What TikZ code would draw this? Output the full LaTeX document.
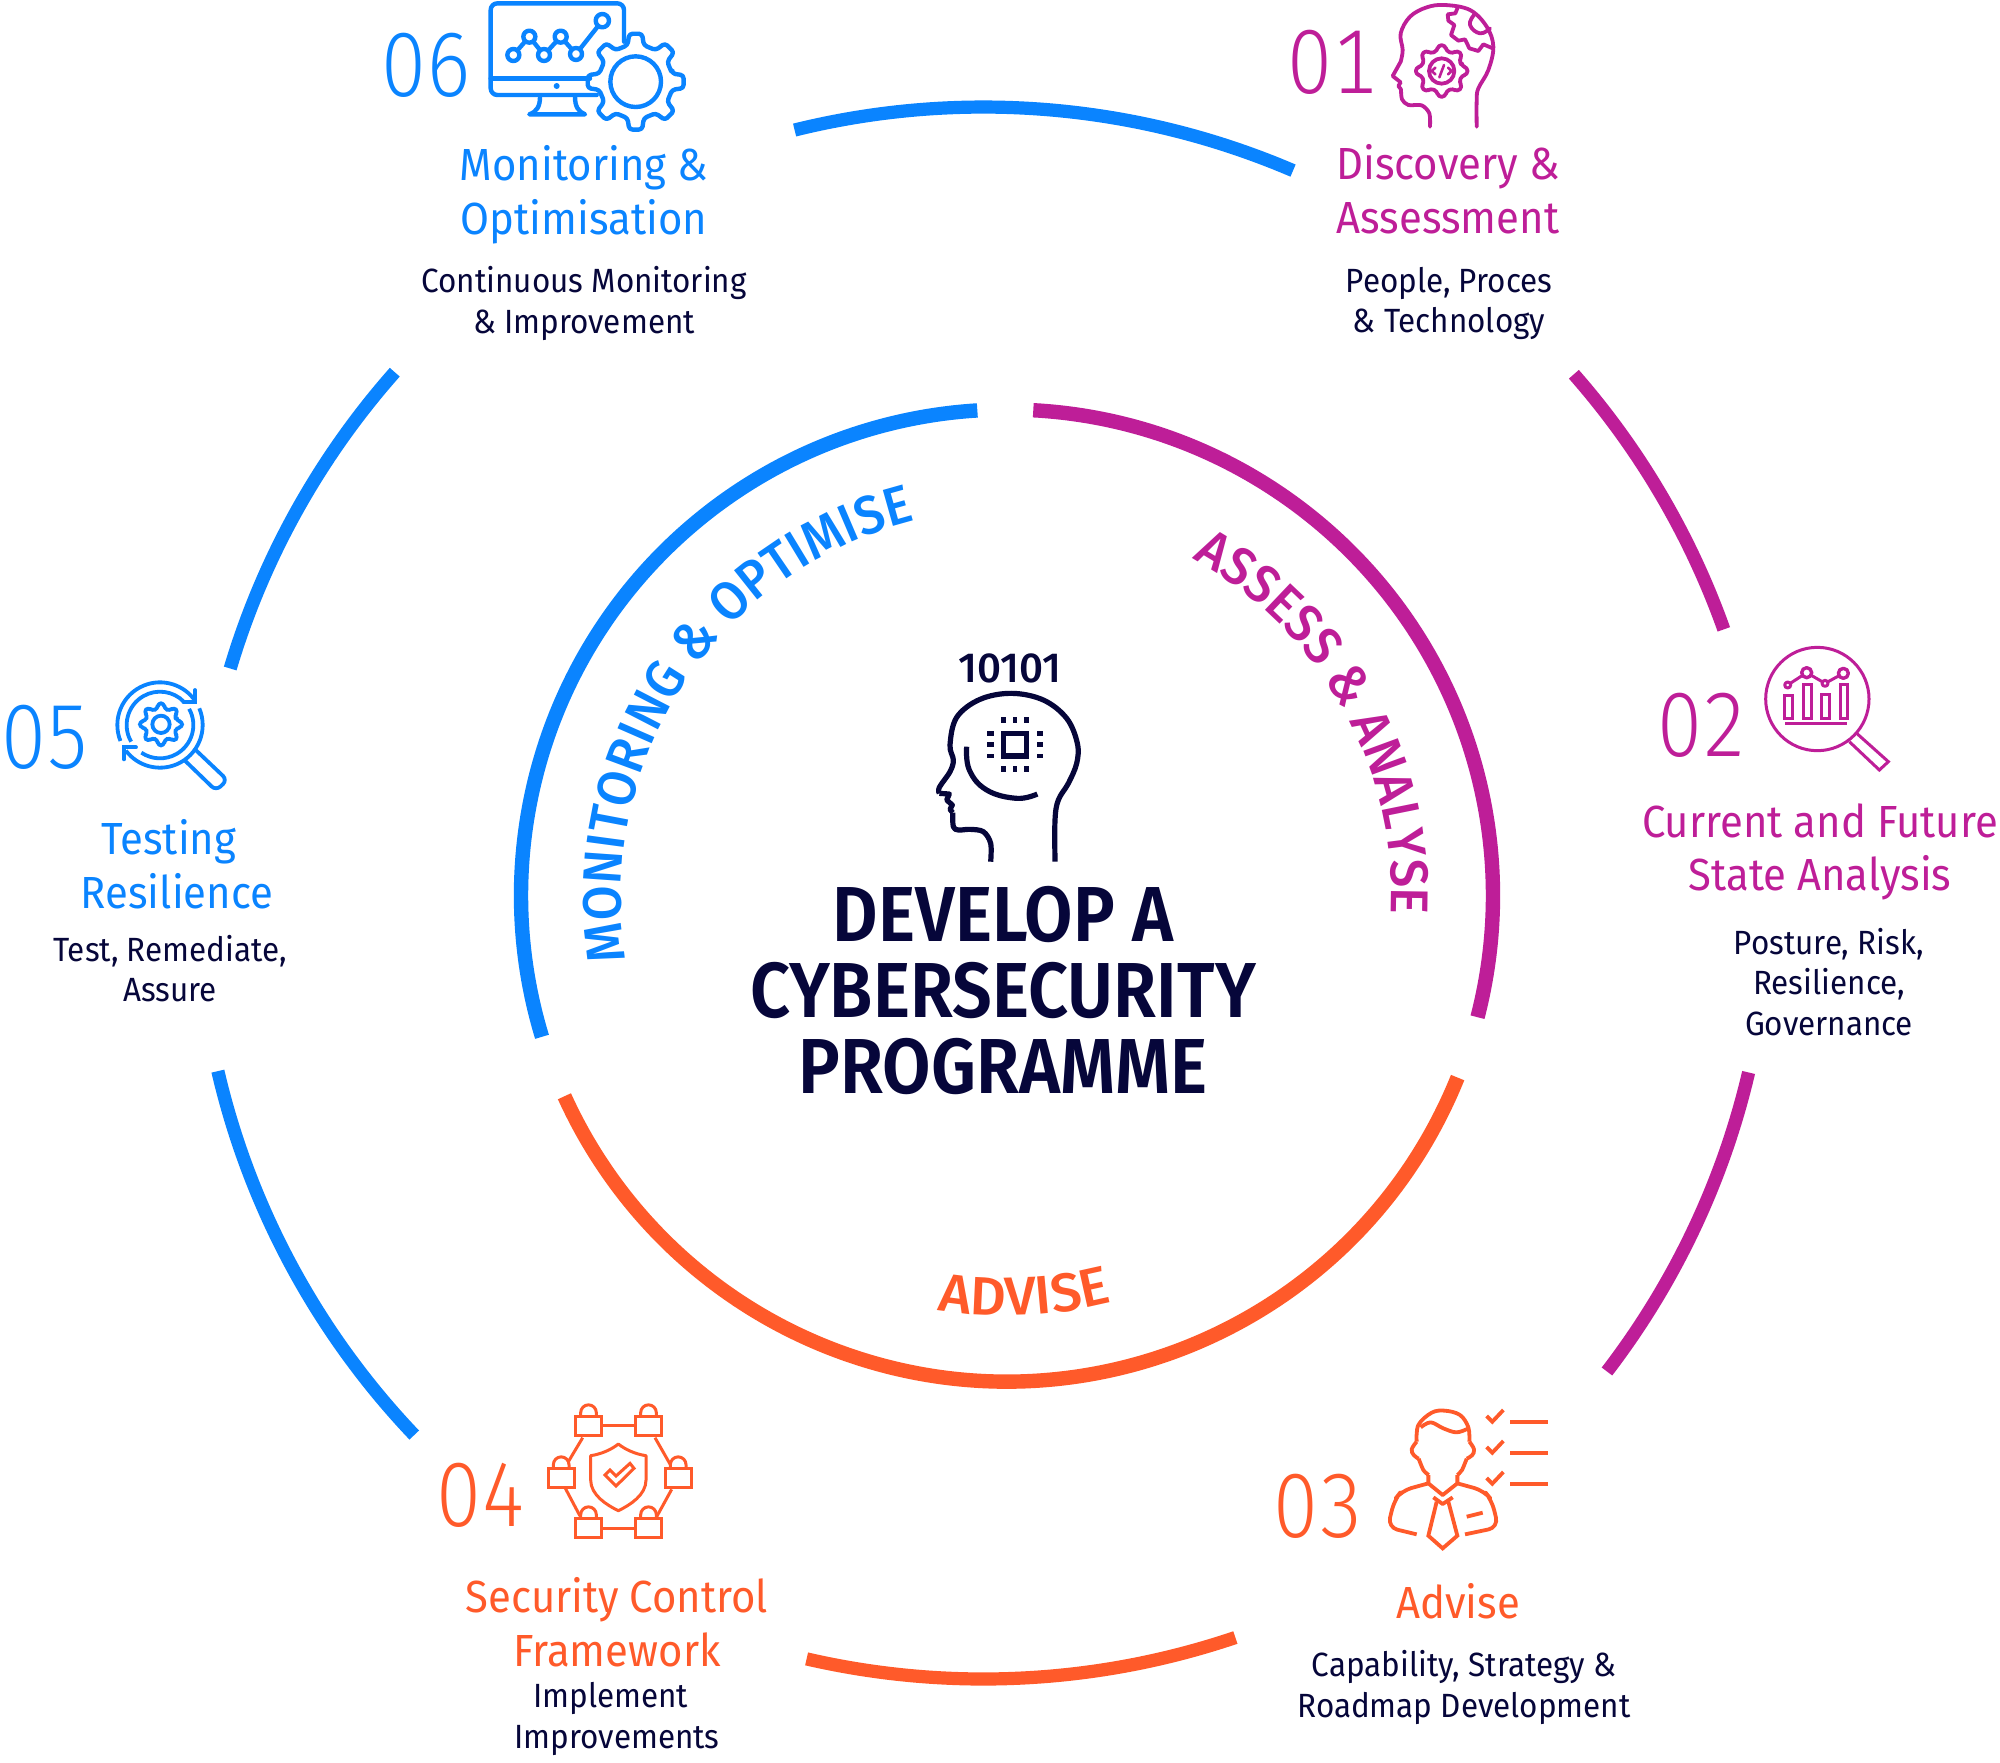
\documentclass[tikz,border=0pt]{standalone}
\usepackage{fontspec}
\usetikzlibrary{decorations.text}
\setmainfont{Fira Sans}
\newfontfamily\lightf{Fira Sans Light}[Numbers={Lining,Monospaced}]
\newfontfamily\semif{Fira Sans SemiBold}[FakeStretch=0.9]
\newfontfamily\medf{Fira Sans Medium}
\newfontfamily\curvef{Fira Sans Medium}[FakeStretch=0.94]
\newfontfamily\advf{Fira Sans Medium}[FakeStretch=1.03]
\newfontfamily\titlef{Fira Sans}[FakeStretch=0.93]
\newfontfamily\bodyf{Fira Sans}[FakeStretch=0.935]
\definecolor{bluec}{RGB}{10,132,255}
\definecolor{purpc}{RGB}{190,30,152}
\definecolor{orngc}{RGB}{255,90,42}
\definecolor{navyc}{RGB}{6,6,58}
\tikzset{
 numst/.style={inner sep=0pt,font=\lightf\fontsize{45.5}{45.5}\selectfont},
 titlest/.style={inner sep=0pt,align=center,font=\titlef\fontsize{22.5}{26.8}\selectfont},
 bodyst/.style={inner sep=0pt,align=center,text=navyc,font=\bodyf\fontsize{16.8}{20.4}\selectfont},
 bigst/.style={inner sep=0pt,align=center,text=navyc,font=\semif\fontsize{39}{30}\selectfont},
 outerarc/.style={line width=6.6pt},
 innerarc/.style={line width=7.2pt},
 zoomed/.style={x=0.166667pt,y=-0.166667pt,line cap=round,line join=round},
}
\newcommand{\numtxt}[1]{\scalebox{0.88}[1]{#1}}
\newcommand{\gearp}[5]{% cx cy outer body n
 \begin{scope}[shift={(#1,#2)}]
 \pgfmathsetmacro{\stp}{360/#5}
 \draw[rounded corners=1.6pt] (-0.28*\stp:#4)
 \foreach \k in {1,...,#5}{
  -- ({(\k-1)*\stp-0.17*\stp}:#3) -- ({(\k-1)*\stp+0.17*\stp}:#3) -- ({(\k-1)*\stp+0.28*\stp}:#4) -- ({\k*\stp-0.28*\stp}:#4)
 } -- cycle;
 \end{scope}}
\newcommand{\lockp}[2]{% body left-top
 \draw[line join=miter] (#1,#2) rectangle ++(79,57);
 \draw (#1+16,#2) -- (#1+16,#2-12) arc (180:360:23.5) -- (#1+63,#2);}
\begin{document}
\begin{tikzpicture}[x=0.5pt,y=-0.5pt]
\useasboundingbox[fill=white] (0,0) rectangle (2000,1762);
% outer arcs
\begin{scope}[shift={(983.4,893)},y=0.5pt]
\draw[outerarc,bluec] (103.9:786) arc (103.9:66.8:786);
\draw[outerarc,purpc] (41.3:786) arc (41.3:19.6:786);
\draw[outerarc,purpc] (-13.2:786) arc (-13.2:-37.5:786);
\draw[outerarc,orngc] (-71.3:786) arc (-71.3:-103:786);
\draw[outerarc,bluec] (223.6:786) arc (223.6:193.1:786);
\draw[outerarc,bluec] (163.4:786) arc (163.4:138.5:786);
\end{scope}
% inner arcs and curved labels
\begin{scope}[shift={(1007,895.5)},y=0.5pt]
\draw[innerarc,purpc] (86.9:486) arc (86.9:-14.5:486);
\draw[innerarc,orngc] (-22:486) arc (-22:-155.6:486);
\draw[innerarc,bluec] (196.9:486) arc (196.9:93.5:486);
\path[decorate,decoration={text along path,text align=center,
 text={|\curvef\fontsize{27}{27}\selectfont\color{bluec}|MONITORING {\&} OPTIMISE}}]
 (200.7:386) arc (200.7:92.7:386);
\path[decorate,decoration={text along path,text align=center,
 text={|\curvef\fontsize{26.5}{26.5}\selectfont\color{purpc}|ASSESS {\&} ANALYSE}}]
 (85.15:384.5) arc (85.15:-26.85:384.5);
\path[decorate,decoration={text along path,text align=center,
 text={|\advf\fontsize{27}{27}\selectfont\color{orngc}|ADVISE}}]
 (245:420) arc (245:300:420);
\end{scope}
% centre
\node[inner sep=0pt,text=navyc,font=\medf\fontsize{21}{21}\selectfont] (bits) at (1010,668) {10101};
\node[bigst] (big1) at (1003,914) {DEVELOP A};
\node[bigst] (big2) at (1003,990) {CYBERSECURITY};
\node[bigst] (big3) at (1003,1066) {PROGRAMME};
\begin{scope}[shift={(900,630)},zoomed,navyc,line width=2.6pt,line cap=butt]
\draw[line join=round] plot[smooth,tension=0.55] coordinates {(272,695)(272,640)(250,605)(210,598)(175,600)(160,590)(158,548)};
\draw (158,548) -- (150,538) -- (157,525) -- (140,510) -- (148,492) -- (118,490);
\draw plot[smooth,tension=0.6] coordinates {(118,490)(118,472)(150,425)(160,390)(150,345)(170,262)(240,208)(335,190)(430,210)(500,265)(532,340)(530,400)(505,460)(475,510)(465,570)(465,695)};
\draw plot[smooth,tension=0.7] coordinates {(200,350)(208,420)(260,480)(350,505)(412,492)};
\draw[line join=miter] (310,310) rectangle (380,378);
\foreach \p in {310,345,380}{
 \fill (\p-7,261) rectangle (\p+7,279);
 \fill (\p-7,409) rectangle (\p+7,427);
}
\foreach \p in {310,344,378}{
 \fill (261,\p-7) rectangle (281,\p+7);
 \fill (410,\p-7) rectangle (430,\p+7);
}
\end{scope}
% 06
\node[numst,text=bluec] (n6) at (426,65.5) {\numtxt{06}};
\node[titlest,text=bluec] (t6) at (584,194.5) {Monitoring \&\\Optimisation};
\node[bodyst] (b6) at (584,303.5) {Continuous Monitoring\\\& Improvement};
\begin{scope}[shift={(370,0)},zoomed,bluec,line width=2.2pt]
\draw (660,235) -- (362,235);
\draw (680,285) -- (382,285) arc (90:180:20) -- (362,30) arc (180:270:20) -- (742,10) arc (270:360:20) -- (762,125);
\draw (510,290) .. controls (510,320) and (500,335) .. (478,343) -- (645,343) .. controls (625,335) and (615,320) .. (615,290);
\fill (560,258) circle (9);
\draw (430,165) -- (478,110) -- (522,165) -- (572,110) -- (618,162) -- (697,62);
\foreach \a/\b in {430/165,478/110,522/165,572/110,618/162}{\draw[fill=white] (\a,\b) circle (18);}
\draw[fill=white] (697,62) circle (20);
\gearp{797}{245}{145}{112}{8}
\draw (797,245) circle (76);
\end{scope}
% 01
\node[numst,text=purpc] (n1) at (1332,62) {\numtxt{01}};
\node[titlest,text=purpc] (t1) at (1448,189.5) {Discovery \&\\Assessment};
\node[bodyst] (b1) at (1449,303.5) {People, Proces\\\& Technology};
\begin{scope}[shift={(1270,0)},zoomed,purpc,line width=1.9pt]
\draw plot[smooth,tension=0.5] coordinates {(480,380)(478,340)(455,316)(415,315)(396,298)(393,268)};
\draw (393,268) -- (385,258) -- (392,247) -- (368,228) -- (392,185);
\draw plot[smooth,tension=0.6] coordinates {(392,185)(398,150)(392,100)(420,50)(470,22)(525,15)(600,30)(650,80)(670,140)(655,210)(625,265)(620,300)(620,380)};
\draw plot[smooth,tension=0] coordinates {(562,25)(556,40)(533,43)(535,62)(553,75)(543,105)(565,122)(585,118)(598,145)(625,153)(640,133)(668,145)};
\draw plot[smooth,tension=0.8] coordinates {(660,85)(630,100)(600,75)(612,45)};
\gearp{515}{213}{78}{62}{8}
\draw (515,213) circle (38);
\draw[line width=1.3pt] (496,203) -- (485,213) -- (496,223);
\draw[line width=1.3pt] (534,203) -- (545,213) -- (534,223);
\draw[line width=1.3pt] (522,195) -- (508,232);
\end{scope}
% 02
\node[numst,text=purpc] (n2) at (1702,725) {\numtxt{02}};
\node[titlest,text=purpc] (t2) at (1820,852) {Current and Future\\State Analysis};
\node[bodyst] (b2) at (1829,982) {Posture, Risk,\\Resilience,\\Governance};
\begin{scope}[shift={(1640,630)},zoomed,purpc,line width=1.5pt,line cap=butt]
\draw (532,207) circle (155);
\draw[line join=miter] (650,310) -- (745,395) -- (718,420) -- (628,335);
\foreach \l/\t/\r in {433/197/458,489/162/513,545/192/568,600/162/623}{\draw[line join=miter] (\l,\t) rectangle (\r,265);}
\draw[line width=1.7pt] (435,281) -- (620,281);
\draw (443,165) -- (500,128) -- (555,160) -- (610,130);
\foreach \a/\b in {443/165,555/160}{\draw[fill=white] (\a,\b) circle (9);}
\foreach \a/\b in {500/128,610/130}{\draw[fill=white,line width=1.7pt] (\a,\b) circle (15);}
\end{scope}
% 03
\node[numst,text=orngc] (n3) at (1318,1506) {\numtxt{03}};
\node[titlest,text=orngc] (t3) at (1458,1601) {Advise};
\node[bodyst] (b3) at (1464,1687.5) {Capability, Strategy \&\\Roadmap Development};
\begin{scope}[shift={(1260,1390)},zoomed,orngc,line width=1.9pt,line cap=butt]
\draw plot[smooth,tension=0.6] coordinates {(470,155)(475,105)(515,68)(555,62)(600,75)(625,112)(628,155)};
\draw plot[smooth,tension=0.6] coordinates {(482,112)(512,97)(550,115)(590,127)(625,115)};
\draw plot[smooth,tension=0.7] coordinates {(470,155)(455,178)(462,196)(476,206)};
\draw plot[smooth,tension=0.7] coordinates {(628,155)(642,178)(636,196)(620,206)};
\draw plot[smooth,tension=0.5] coordinates {(476,206)(490,240)(506,255)};
\draw plot[smooth,tension=0.5] coordinates {(620,206)(606,240)(592,255)};
\draw (505,255) -- (505,280) -- (548,315) -- (592,280) -- (592,255);
\draw[rounded corners=5pt] (505,280) -- (425,302) -- (403,330) -- (383,412) -- (470,433);
\draw[rounded corners=5pt] (592,280) -- (672,302) -- (695,330) -- (715,412) -- (615,433);
\draw (520,322) -- (548,342) -- (578,322);
\draw[line join=miter] (530,335) -- (505,437) -- (548,475) -- (592,437) -- (565,335);
\draw (620,380) -- (668,368);
\foreach \o in {0,93,186}{
 \draw[line join=miter] (680,78+\o) -- (697,95+\o) -- (730,60+\o);
 \draw (750,95+\o) -- (863,95+\o);
}
\end{scope}
% 04
\node[numst,text=orngc] (n4) at (481,1495) {\numtxt{04}};
\node[titlest,text=orngc] (t4) at (617,1622) {Security Control\\Framework};
\node[bodyst] (b4) at (617,1719) {Implement\hspace*{6.4pt}\\Improvements};
\begin{scope}[shift={(430,1390)},zoomed,orngc,line width=1.5pt,line cap=butt]
\lockp{436}{80}\lockp{616}{80}\lockp{354}{236}\lockp{705}{236}\lockp{436}{386}\lockp{616}{386}
\draw (515,105) -- (616,105);
\draw (515,415) -- (616,415);
\draw (458,143) -- (415,215);
\draw (675,143) -- (720,222);
\draw (405,293) -- (450,378);
\draw (725,298) -- (680,380);
\draw[line join=round] (565,162) .. controls (545,178) and (515,192) .. (482,197) -- (482,270) .. controls (482,315) and (530,345) .. (565,362) .. controls (600,345) and (648,315) .. (648,270) -- (648,197) .. controls (615,192) and (585,178) .. (565,162) -- cycle;
\draw[line join=miter] (525,255) -- (540,240) -- (558,258) -- (600,220) -- (612,235) -- (558,288) -- cycle;
\end{scope}
% 05
\node[numst,text=bluec] (n5) at (46,737) {\numtxt{05}};
\node[titlest,text=bluec] (t5) at (177,864) {Testing\hspace*{8.3pt}\\Resilience};
\node[bodyst] (b5) at (170,968.5) {Test, Remediate,\\Assure};
\begin{scope}[shift={(0,670)},zoomed,bluec,line width=1.9pt]
\begin{scope}[shift={(480,165)},line cap=butt]
\draw (158:128) arc (158:326:128);
\draw (-23:128) arc (-23:143:128);
\draw (150:100) arc (150:316:100);
\draw (-29:100) arc (-29:124:100);
\end{scope}
\draw[line join=miter] (585,60) -- (585,95) -- (550,95);
\draw[line join=miter] (372,268) -- (372,232) -- (408,232);
\gearp{483}{163}{64}{48}{8}
\draw (483,163) circle (26);
\draw[rounded corners=3pt] (555,272) -- (648,362) -- (682,330) -- (585,238);
\end{scope}
\end{tikzpicture}
\end{document}
